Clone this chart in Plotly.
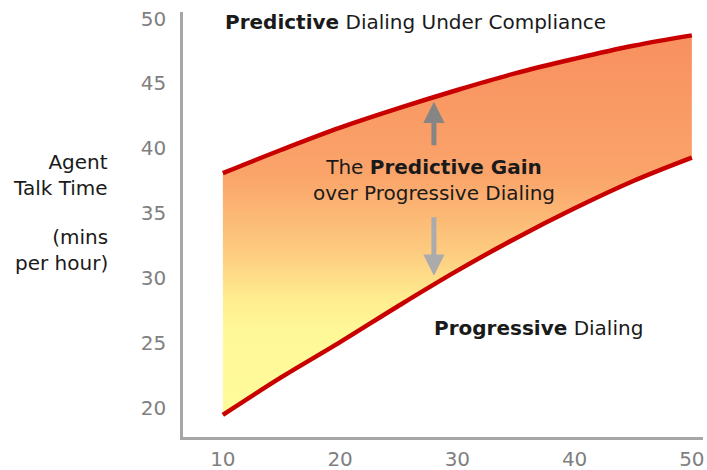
import plotly.graph_objects as go

# Data
x_vals = [10, 15, 20, 25, 30, 35, 40, 45, 50]
predictive = [38.1, 39.9, 41.6, 43.1, 44.5, 45.8, 46.9, 47.9, 48.7]
progressive = [19.5, 22.4, 25.1, 27.9, 30.6, 33.1, 35.4, 37.5, 39.3]
x_ticks = [10, 20, 30, 40, 50]
y_ticks = [20, 25, 30, 35, 40, 45, 50]

RED = "#C80000"
FONT = "DejaVu Sans"
TXT = "#1A1A1A"

fig = go.Figure()

# Fill between curves with vertical gradient
fig.add_trace(go.Scatter(x=x_vals, y=progressive, mode="lines",
                         line=dict(width=0, color="rgba(0,0,0,0)", shape="spline"),
                         hoverinfo="skip", showlegend=False))
fig.add_trace(go.Scatter(x=x_vals, y=predictive, mode="lines", fill="tonexty",
                         line=dict(width=0, color="rgba(0,0,0,0)", shape="spline"),
                         fillgradient=dict(type="vertical",
                                           colorscale=[[0.0, "#FFFB9A"], [0.22, "#FFF898"],
                                                       [0.30, "#FFEE90"], [0.43, "#FDCB80"],
                                                       [0.63, "#FAA46A"], [1.0, "#F8905F"]]),
                         hoverinfo="skip", showlegend=False))
# Red curves on top
fig.add_trace(go.Scatter(x=x_vals, y=progressive, mode="lines",
                         line=dict(width=4.5, color=RED, shape="spline"), showlegend=False))
fig.add_trace(go.Scatter(x=x_vals, y=predictive, mode="lines",
                         line=dict(width=4.5, color=RED, shape="spline"), showlegend=False))

ann = []
ann.append(dict(x=10, y=49.7, xref="x", yref="y", xanchor="left", yanchor="middle",
                text="<b>Predictive</b> Dialing Under Compliance", showarrow=False,
                font=dict(family=FONT, size=20, color=TXT)))
ann.append(dict(x=28.0, y=37.6, xref="x", yref="y", xanchor="center", yanchor="middle",
                text="The <b>Predictive Gain</b><br>over Progressive Dialing", showarrow=False,
                font=dict(family=FONT, size=20, color=TXT)))
ann.append(dict(x=27.8, y=26.2, xref="x", yref="y", xanchor="left", yanchor="middle",
                text="<b>Progressive</b> Dialing", showarrow=False,
                font=dict(family=FONT, size=20, color=TXT)))
# Arrows
ann.append(dict(x=28.0, y=43.6, xref="x", yref="y", text="", showarrow=True,
                ax=0, ay=45, arrowhead=2, arrowsize=0.85, arrowwidth=5, arrowcolor="#858585"))
ann.append(dict(x=28.0, y=30.2, xref="x", yref="y", text="", showarrow=True,
                ax=0, ay=-60, arrowhead=2, arrowsize=0.85, arrowwidth=5, arrowcolor="#ABABAB"))
# Y axis title (page pixel positions converted below)
ann.append(dict(x=110, y=175, xref="paper", yref="paper", text="Agent<br>Talk Time",
                showarrow=False, align="right", xanchor="right", yanchor="middle",
                font=dict(family=FONT, size=20, color=TXT)))
ann.append(dict(x=110, y=250, xref="paper", yref="paper", text="(mins<br>per hour)",
                showarrow=False, align="right", xanchor="right", yanchor="middle",
                font=dict(family=FONT, size=20, color=TXT)))

W, H = 707, 470
L, R, T, B = 183, 4, 12, 33
for a in ann[-2:]:
    a["x"] = (a["x"] - L) / (W - L - R)
    a["y"] = 1 - (a["y"] - T) / (H - T - B)

fig.update_layout(
    width=W, height=H,
    margin=dict(l=L, r=R, t=T, b=B),
    paper_bgcolor="white", plot_bgcolor="white",
    annotations=ann,
    showlegend=False,
)
fig.update_xaxes(range=[6.6, 50.95], tickvals=x_ticks, showgrid=False, zeroline=False,
                 showline=True, linecolor="#A6A6A6", linewidth=2.5, automargin=False,
                 tickfont=dict(family=FONT, size=20, color="#7F7F7F"),
                 ticks="", ticklabelstandoff=2, ticklabeloverflow="allow")
fig.update_yaxes(range=[17.8, 50.5], tickvals=y_ticks, showgrid=False, zeroline=False,
                 showline=True, linecolor="#A6A6A6", linewidth=2.5, automargin=False,
                 tickfont=dict(family=FONT, size=20, color="#7F7F7F"),
                 ticks="", ticklabelstandoff=10, ticklabeloverflow="allow")

fig.write_html("out.html", config={"displayModeBar": False},
               post_script="document.body.style.margin='0';document.body.style.overflow='hidden';")
